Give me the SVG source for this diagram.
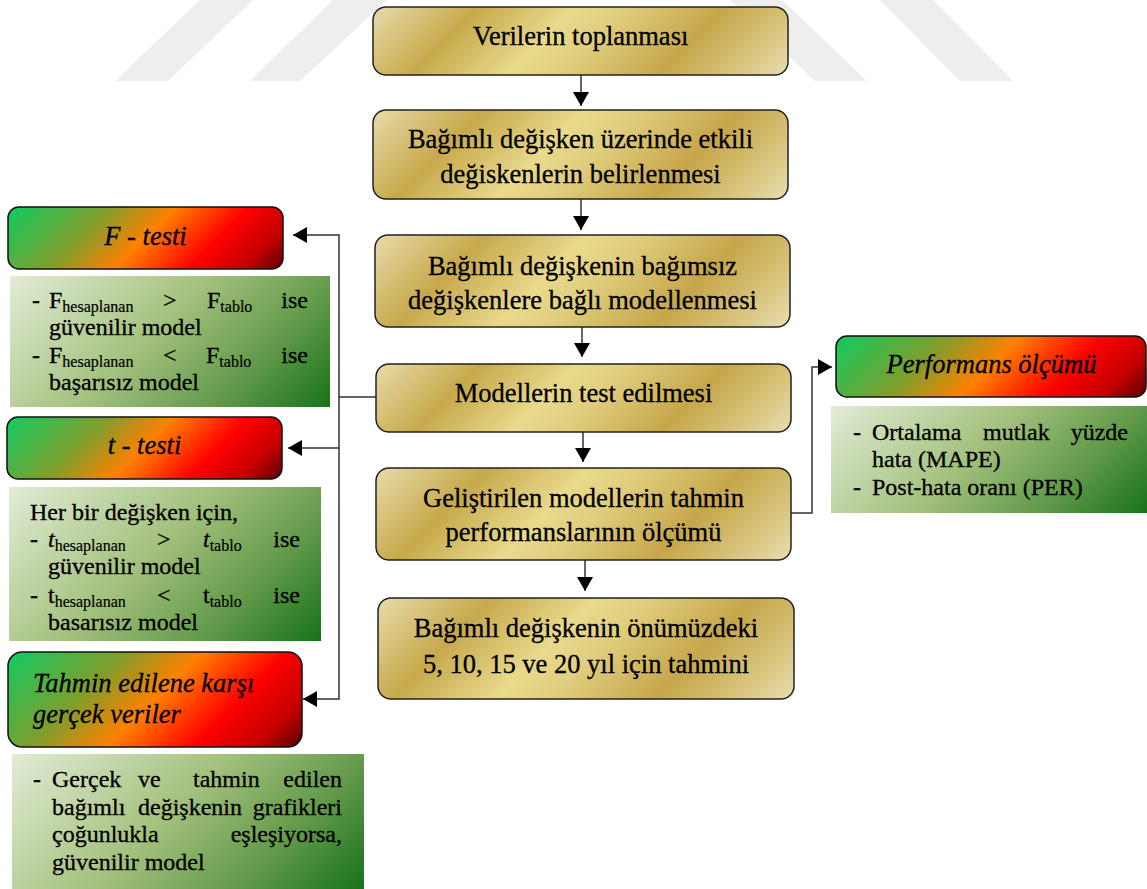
<svg xmlns="http://www.w3.org/2000/svg" width="1147" height="889" viewBox="0 0 1147 889" font-family="'Liberation Serif', 'DejaVu Serif', serif">
<style>
text{font-family:'Liberation Serif','DejaVu Serif',serif;fill:#000;stroke:#000;stroke-width:0.3}
.gt{font-size:26.5px;text-anchor:middle}
.ht{font-size:26.5px;font-style:italic}
.mid{text-anchor:middle}
.bt{font-size:24px}
.end{text-anchor:end}
.sub{font-size:16px;font-style:normal;stroke-width:0.2}
.it{font-style:italic}
.gold{stroke:#222;stroke-width:1.5}
.head{stroke:#111;stroke-width:1.5}
.wm{fill:#eeeeee}
.conn{fill:none;stroke:#333;stroke-width:1.5}
</style>
<defs>
<linearGradient id="gold">
<stop offset="0" stop-color="#e8dcac"/>
<stop offset="0.22" stop-color="#c7a94c"/>
<stop offset="0.42" stop-color="#e8d98c"/>
<stop offset="0.52" stop-color="#e1cf80"/>
<stop offset="0.73" stop-color="#c6a64a"/>
<stop offset="0.88" stop-color="#d8c47c"/>
<stop offset="1" stop-color="#e9ddb2"/>
</linearGradient>
<linearGradient id="heat">
<stop offset="0" stop-color="#0fcc62"/>
<stop offset="0.3" stop-color="#7f9e2c"/>
<stop offset="0.5" stop-color="#ff8000"/>
<stop offset="0.72" stop-color="#ff0000"/>
<stop offset="0.88" stop-color="#c40000"/>
<stop offset="1" stop-color="#580000"/>
</linearGradient>
<linearGradient id="leaf">
<stop offset="0" stop-color="#e2ecd6"/>
<stop offset="0.45" stop-color="#a3c07c"/>
<stop offset="0.75" stop-color="#5f9848"/>
<stop offset="1" stop-color="#187318"/>
</linearGradient>
<linearGradient id="g1" href="#gold" gradientUnits="userSpaceOnUse" x1="373" y1="7" x2="614.5" y2="248.5"/>
<linearGradient id="g2" href="#gold" gradientUnits="userSpaceOnUse" x1="373" y1="110" x2="625" y2="362"/>
<linearGradient id="g3" href="#gold" gradientUnits="userSpaceOnUse" x1="375" y1="235" x2="628.5" y2="488.5"/>
<linearGradient id="g4" href="#gold" gradientUnits="userSpaceOnUse" x1="376" y1="364" x2="617.5" y2="605.5"/>
<linearGradient id="g5" href="#gold" gradientUnits="userSpaceOnUse" x1="376" y1="468" x2="629.5" y2="721.5"/>
<linearGradient id="g6" href="#gold" gradientUnits="userSpaceOnUse" x1="378" y1="598" x2="636.5" y2="856.5"/>
<linearGradient id="hF" href="#heat" gradientUnits="userSpaceOnUse" x1="8" y1="207" x2="176.5" y2="375.5"/>
<linearGradient id="hT" href="#heat" gradientUnits="userSpaceOnUse" x1="7" y1="417" x2="175.5" y2="585.5"/>
<linearGradient id="hG" href="#heat" gradientUnits="userSpaceOnUse" x1="8" y1="652" x2="202.5" y2="846.5"/>
<linearGradient id="hP" href="#heat" gradientUnits="userSpaceOnUse" x1="836" y1="336" x2="1021.5" y2="521.5"/>
<linearGradient id="lF" href="#leaf" gradientUnits="userSpaceOnUse" x1="10" y1="276" x2="235.5" y2="501.5"/>
<linearGradient id="lT" href="#leaf" gradientUnits="userSpaceOnUse" x1="9" y1="487" x2="242" y2="720"/>
<linearGradient id="lG" href="#leaf" gradientUnits="userSpaceOnUse" x1="12" y1="754" x2="255.5" y2="997.5"/>
<linearGradient id="lP" href="#leaf" gradientUnits="userSpaceOnUse" x1="831" y1="406" x2="1042.5" y2="617.5"/>
<marker id="arr" markerUnits="userSpaceOnUse" viewBox="0 0 14 16" refX="14" refY="8" markerWidth="14" markerHeight="16" orient="auto">
<path d="M0,0 L14,8 L0,16 Z" fill="#000"/>
</marker>
</defs>
<rect width="1147" height="889" fill="#fff"/>
<g id="watermark">
<polygon class="wm" points="200,0 253,0 168,81 115,81"/>
<polygon class="wm" points="333,0 387,0 300,81 250,81"/>
<polygon class="wm" points="730,0 782,0 867,81 815,81"/>
<polygon class="wm" points="880,0 933,0 1013,81 960,81"/>
</g>
<g id="connectors">
<path class="conn" d="M581,75 V106" marker-end="url(#arr)"/>
<path class="conn" d="M581,199 V230" marker-end="url(#arr)"/>
<path class="conn" d="M582,327 V357" marker-end="url(#arr)"/>
<path class="conn" d="M583,432 V462" marker-end="url(#arr)"/>
<path class="conn" d="M585,560 V591" marker-end="url(#arr)"/>
<path class="conn" d="M376,397 H339 V235 H293" marker-end="url(#arr)"/>
<path class="conn" d="M339,397 V448 H288" marker-end="url(#arr)"/>
<path class="conn" d="M339,448 V699 H303" marker-end="url(#arr)"/>
<path class="conn" d="M791,513 H812 V367 H832" marker-end="url(#arr)"/>
</g>
<g id="n1">
<rect class="gold" x="373" y="7" width="415" height="68" rx="13" fill="url(#g1)"/>
<text class="gt" x="580.5" y="45">Verilerin toplanması</text>
</g>
<g id="n2">
<rect class="gold" x="373" y="110" width="415" height="89" rx="13" fill="url(#g2)"/>
<text class="gt" x="580.5" y="148">Bağımlı değişken üzerinde etkili</text>
<text class="gt" x="580.5" y="183">değiskenlerin belirlenmesi</text>
</g>
<g id="n3">
<rect class="gold" x="375" y="235" width="415" height="92" rx="13" fill="url(#g3)"/>
<text class="gt" x="582.5" y="275">Bağımlı değişkenin bağımsız</text>
<text class="gt" x="582.5" y="309">değişkenlere bağlı modellenmesi</text>
</g>
<g id="n4">
<rect class="gold" x="376" y="364" width="415" height="68" rx="13" fill="url(#g4)"/>
<text class="gt" x="583.5" y="402">Modellerin test edilmesi</text>
</g>
<g id="n5">
<rect class="gold" x="376" y="468" width="415" height="92" rx="13" fill="url(#g5)"/>
<text class="gt" x="583.5" y="507">Geliştirilen modellerin tahmin</text>
<text class="gt" x="583.5" y="541">performanslarının ölçümü</text>
</g>
<g id="n6">
<rect class="gold" x="378" y="598" width="416" height="101" rx="13" fill="url(#g6)"/>
<text class="gt" x="586" y="637">Bağımlı değişkenin önümüzdeki</text>
<text class="gt" x="586" y="673">5, 10, 15 ve 20 yıl için tahmini</text>
</g>
<g id="f-testi">
<rect class="head" x="8" y="207" width="275" height="62" rx="11" fill="url(#hF)"/>
<text class="ht mid" x="145.5" y="245">F - testi</text>
</g>
<g id="f-testi-detay">
<rect x="10" y="276" width="320" height="131" fill="url(#lF)"/>
<text class="bt" x="32" y="308">-</text>
<text class="bt" x="49" y="308">F<tspan class="sub" dy="4">hesaplanan</tspan></text>
<text class="bt" x="163" y="308">&gt;</text>
<text class="bt" x="207" y="308">F<tspan class="sub" dy="4">tablo</tspan></text>
<text class="bt end" x="308" y="308">ise</text>
<text class="bt" x="49" y="335">güvenilir model</text>
<text class="bt" x="32" y="363">-</text>
<text class="bt" x="49" y="363">F<tspan class="sub" dy="4">hesaplanan</tspan></text>
<text class="bt" x="163" y="363">&lt;</text>
<text class="bt" x="206" y="363">F<tspan class="sub" dy="4">tablo</tspan></text>
<text class="bt end" x="308" y="363">ise</text>
<text class="bt" x="49" y="390">başarısız model</text>
</g>
<g id="t-testi">
<rect class="head" x="7" y="417" width="275" height="62" rx="11" fill="url(#hT)"/>
<text class="ht mid" x="144.5" y="454">t - testi</text>
</g>
<g id="t-testi-detay">
<rect x="9" y="487" width="312" height="154" fill="url(#lT)"/>
<text class="bt" x="30" y="520">Her bir değişken için,</text>
<text class="bt" x="30" y="547">-</text>
<text class="bt" x="48" y="547"><tspan class="it">t</tspan><tspan class="sub" dy="4">hesaplanan</tspan></text>
<text class="bt" x="157" y="547">&gt;</text>
<text class="bt" x="203" y="547"><tspan class="it">t</tspan><tspan class="sub" dy="4">tablo</tspan></text>
<text class="bt end" x="300" y="547">ise</text>
<text class="bt" x="48" y="574">güvenilir model</text>
<text class="bt" x="30" y="603">-</text>
<text class="bt" x="48" y="603">t<tspan class="sub" dy="4">hesaplanan</tspan></text>
<text class="bt" x="157" y="603">&lt;</text>
<text class="bt" x="203" y="603">t<tspan class="sub" dy="4">tablo</tspan></text>
<text class="bt end" x="300" y="603">ise</text>
<text class="bt" x="48" y="630">basarısız model</text>
</g>
<g id="tahmin-gercek">
<rect class="head" x="8" y="652" width="294" height="95" rx="14" fill="url(#hG)"/>
<text class="ht" x="33" y="692">Tahmin edilene karşı</text>
<text class="ht" x="33" y="723">gerçek veriler</text>
</g>
<g id="tahmin-gercek-detay">
<rect x="12" y="754" width="352" height="140" fill="url(#lG)"/>
<text class="bt" x="33" y="787">-</text>
<text class="bt" x="52" y="787">Gerçek</text>
<text class="bt" x="138" y="787">ve</text>
<text class="bt" x="193" y="787">tahmin</text>
<text class="bt end" x="342" y="787">edilen</text>
<text class="bt" x="52" y="815">bağımlı</text>
<text class="bt" x="138" y="815">değişkenin</text>
<text class="bt end" x="342" y="815">grafikleri</text>
<text class="bt" x="52" y="842">çoğunlukla</text>
<text class="bt end" x="342" y="842">eşleşiyorsa,</text>
<text class="bt" x="52" y="870">güvenilir model</text>
</g>
<g id="performans">
<rect class="head" x="836" y="336" width="310" height="61" rx="11" fill="url(#hP)"/>
<text class="ht mid" x="991.5" y="373">Performans ölçümü</text>
</g>
<g id="performans-detay">
<rect x="831" y="406" width="316" height="107" fill="url(#lP)"/>
<text class="bt" x="853" y="440">-</text>
<text class="bt" x="872" y="440">Ortalama</text>
<text class="bt" x="983" y="440">mutlak</text>
<text class="bt end" x="1128" y="440">yüzde</text>
<text class="bt" x="872" y="467">hata (MAPE)</text>
<text class="bt" x="853" y="495">-</text>
<text class="bt" x="872" y="495">Post-hata oranı (PER)</text>
</g>
</svg>
